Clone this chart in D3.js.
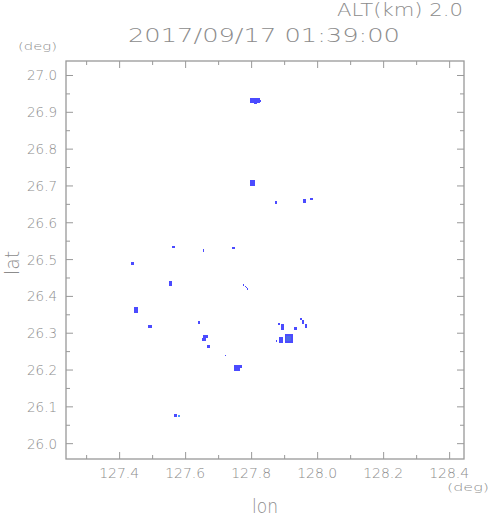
<!DOCTYPE html>
<html><head><meta charset="utf-8">
<script src="https://cdn.jsdelivr.net/npm/d3@7"></script>
<style>
html,body{margin:0;padding:0;background:#fff;}
svg text{font-family:"DejaVu Sans","Liberation Sans",sans-serif;font-weight:200;fill:#8c8c8c;}
</style></head>
<body>
<svg id="chart" width="491" height="521"></svg>
<script>
// ---- data ----
const titleText = "2017/09/17 01:39:00";
const altText = "ALT(km) 2.0";
const xLabel = "lon", yLabel = "lat", unitText = "(deg)";
const lonDomain = [127.239, 128.445];
const latDomain = [25.957, 27.038];
const lonMajorTicks = [127.4, 127.6, 127.8, 128.0, 128.2, 128.4];
const lonMinorTicks = [127.3, 127.5, 127.7, 127.9, 128.1, 128.3];
const latMajorTicks = [26.0, 26.1, 26.2, 26.3, 26.4, 26.5, 26.6, 26.7, 26.8, 26.9, 27.0];
const latMinorTicks = [26.05, 26.15, 26.25, 26.35, 26.45, 26.55, 26.65, 26.75, 26.85, 26.95];
// echo cells: [lonMin, lonMax, latMin, latMax, level]
const echoLon0 = [127.797,127.827,127.809,127.797,127.872,127.957,127.978,127.560,127.654,127.742,127.436,127.551,127.775,127.781,127.784,127.787,127.445,127.4875,127.639,127.654,127.651,127.666,127.721,127.748,127.766,127.881,127.890,127.930,127.948,127.954,127.963,127.875,127.884,127.903,127.906,127.566,127.578];
const echoLon1 = [127.827,127.830,127.818,127.812,127.878,127.966,127.987,127.569,127.657,127.751,127.445,127.560,127.778,127.784,127.787,127.790,127.457,127.500,127.645,127.669,127.663,127.675,127.724,127.766,127.772,127.887,127.899,127.939,127.954,127.960,127.969,127.878,127.896,127.927,127.921,127.575,127.584];
const echoLat0 = [26.923,26.928,26.920,26.698,26.649,26.652,26.660,26.530,26.519,26.527,26.484,26.427,26.427,26.424,26.421,26.416,26.353,26.312,26.323,26.285,26.280,26.258,26.236,26.196,26.204,26.321,26.307,26.307,26.334,26.323,26.312,26.274,26.272,26.272,26.277,26.071,26.071];
const echoLat1 = [26.9375,26.933,26.923,26.715,26.658,26.663,26.666,26.535,26.527,26.533,26.492,26.440,26.432,26.427,26.424,26.421,26.370,26.321,26.332,26.293,26.287,26.266,26.239,26.212,26.212,26.326,26.323,26.315,26.340,26.334,26.323,26.280,26.288,26.296,26.291,26.079,26.076];
const echoLevel = [1,1,1,1,1,1,1,1,1,1,1,1,1,1,1,1,1,1,1,1,1,1,1,1,1,1,1,1,1,1,1,1,1,1,2,1,0];
const levelColors = ["#4a9cff", "#4b4bff", "#4a6ae6"];

// ---- drawing ----
const svg = d3.select("#chart");
const L = 66, R = 464, T = 61, B = 459;
const x = d3.scaleLinear().domain(lonDomain).range([L, R]);
const y = d3.scaleLinear().domain(latDomain).range([B, T]);
const gray = "#999";

const echoes = echoLon0.map((d, i) => ({l0: d, l1: echoLon1[i], a0: echoLat0[i], a1: echoLat1[i], lv: echoLevel[i]}));
svg.append("g").attr("shape-rendering", "crispEdges").selectAll("rect").data(echoes).join("rect")
  .attr("x", d => Math.round(x(d.l0))).attr("width", d => Math.max(1, Math.round(x(d.l1) - x(d.l0))))
  .attr("y", d => Math.round(y(d.a1))).attr("height", d => Math.max(1, Math.round(y(d.a0) - y(d.a1))))
  .attr("fill", d => levelColors[d.lv]);

// frame
svg.append("rect").attr("x", L).attr("y", T).attr("width", R - L).attr("height", B - T)
  .attr("fill", "none").attr("stroke", gray).attr("stroke-width", 1.3);

function ticks(axisFn, scale, vals, size, tx, ty) {
  const g = svg.append("g").attr("transform", `translate(${tx},${ty})`)
    .call(axisFn(scale).tickValues(vals).tickSize(size).tickFormat(""));
  g.select(".domain").remove();
  g.selectAll("line").attr("stroke", gray).attr("stroke-width", 1);
  return g;
}
ticks(d3.axisBottom, x, lonMajorTicks, -7, 0, B);
ticks(d3.axisBottom, x, lonMinorTicks, -4, 0, B);
ticks(d3.axisTop, x, lonMajorTicks, -7, 0, T);
ticks(d3.axisTop, x, lonMinorTicks, -4, 0, T);
ticks(d3.axisLeft, y, latMajorTicks, -7, L, 0);
ticks(d3.axisLeft, y, latMinorTicks, -4, L, 0);
ticks(d3.axisRight, y, latMajorTicks, -7, R, 0);
ticks(d3.axisRight, y, latMinorTicks, -4, R, 0);

const fmt = d3.format(".1f");
svg.append("g").selectAll("text").data(lonMajorTicks).join("text")
  .attr("x", d => x(d) - 20).attr("y", 478).attr("font-size", 14)
  .attr("textLength", 40).attr("lengthAdjust", "spacingAndGlyphs").text(fmt);
svg.append("g").selectAll("text").data(latMajorTicks).join("text")
  .attr("x", 27).attr("y", d => y(d) + 5.5).attr("font-size", 14)
  .attr("textLength", 30).attr("lengthAdjust", "spacingAndGlyphs").text(fmt);

svg.append("text").attr("x", 128).attr("y", 42).attr("font-size", 20)
  .attr("textLength", 272).attr("lengthAdjust", "spacingAndGlyphs").text(titleText);
svg.append("text").attr("x", 337).attr("y", 16).attr("font-size", 17)
  .attr("textLength", 126).attr("lengthAdjust", "spacingAndGlyphs").text(altText);
svg.append("text").attr("x", 18).attr("y", 50).attr("font-size", 11)
  .attr("textLength", 39).attr("lengthAdjust", "spacingAndGlyphs").text(unitText);
svg.append("text").attr("x", 447).attr("y", 491).attr("font-size", 11)
  .attr("textLength", 42).attr("lengthAdjust", "spacingAndGlyphs").text(unitText);
svg.append("text").attr("x", 252).attr("y", 513).attr("font-size", 19)
  .attr("textLength", 26).attr("lengthAdjust", "spacingAndGlyphs").text(xLabel);
svg.append("text").attr("transform", "translate(19,275) rotate(-90)").attr("font-size", 19)
  .attr("textLength", 24).attr("lengthAdjust", "spacingAndGlyphs").text(yLabel);
</script>
</body></html>
